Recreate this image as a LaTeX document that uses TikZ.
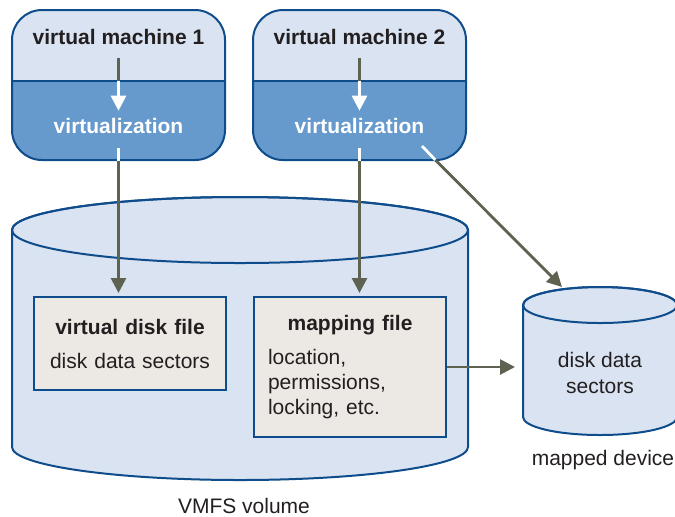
\documentclass[tikz,border=0pt]{standalone}
\usepackage{fontspec}
\setmainfont{Liberation Sans}
\usetikzlibrary{positioning,arrows.meta,calc}
\definecolor{vmLight}{HTML}{D9E3F1}
\definecolor{vmDark}{HTML}{6699CC}
\definecolor{vmEdge}{HTML}{0F4C8C}
\definecolor{fileFill}{HTML}{ECE9E4}
\definecolor{arrGray}{HTML}{5E6251}
\definecolor{txtDark}{HTML}{231F20}

\begin{document}
\begin{tikzpicture}[
  x=0.5pt, y=-0.5pt,
  every node/.style={font=\fontsize{10.5}{12.6}\selectfont, text=txtDark},
  vmbox/.style={draw=vmEdge, line width=1pt, fill=vmLight, rounded corners=15pt,
                minimum width=106.5pt, minimum height=75pt, inner sep=0pt,
                path picture={
                  \fill[vmDark, sharp corners] ($(path picture bounding box.west)+(0pt,2pt)$)
                        rectangle (path picture bounding box.south east);
                  \draw[vmEdge, line width=1pt] ($(path picture bounding box.west)+(0pt,2pt)$)
                        -- ($(path picture bounding box.east)+(0pt,2pt)$);}},
  vmtitle/.style={font=\fontsize{10.5}{12.6}\selectfont\bfseries},
  virt/.style={font=\fontsize{10.5}{12.6}\selectfont\bfseries, text=white},
  filebox/.style={draw=vmEdge, line width=1pt, fill=fileFill,
                  text width=82pt, inner xsep=7pt, inner ysep=0pt},
  disk/.style={draw=vmEdge, line width=1pt, fill=vmLight},
  arr/.style={-{Triangle[length=7.5pt, width=7.5pt]}, line width=1.4pt, arrGray},
  warr/.style={-{Triangle[length=7.5pt, width=7.5pt]}, line width=1.4pt, white},
  link/.style={line width=1.4pt, arrGray},
  wlink/.style={line width=1.4pt, white}
]
  \useasboundingbox (0,0) rectangle (675,516);

  % VMFS volume
  \path[disk] (12,230) -- (12,447)
        arc[start angle=180, end angle=360, x radius=114pt, y radius=16.5pt]
        -- (468,230)
        arc[start angle=0, end angle=180, x radius=114pt, y radius=16.5pt] -- cycle;
  \draw[vmEdge, line width=1pt] (240,230) ellipse[x radius=114pt, y radius=16.5pt];
  \node (vmfslabel) at (244,506) {VMFS volume};

  \node[filebox, align=center, minimum height=46.5pt] (vdisk) at (130,343.5)
        {\textbf{virtual disk file}\\[4.4pt]disk data sectors};
  \node[filebox, align=left, minimum height=70pt] (mapfile) at (350,367)
        {\makebox[\linewidth]{\textbf{mapping file}}\\[4.4pt]location,\\permissions,\\locking, etc.};

  % mapped device
  \path[disk] (523,305) -- (523,417)
        arc[start angle=180, end angle=360, x radius=38.5pt, y radius=9pt]
        -- (677,305)
        arc[start angle=0, end angle=180, x radius=38.5pt, y radius=9pt] -- cycle;
  \draw[vmEdge, line width=1pt] (600,305) ellipse[x radius=38.5pt, y radius=9pt];
  \node[align=center] (device) at (600,373) {disk data\\sectors};
  \node (devlabel) at (603,460) {mapped device};

  % virtual machines
  \node[vmbox] (vm1) at (118.5,85) {};
  \node[vmbox, right=13pt of vm1] (vm2) {};
  \node[vmtitle] (vm1title) at (118.5,37) {virtual machine 1};
  \node[vmtitle] (vm2title) at (359.5,37) {virtual machine 2};
  \node[virt] (virt1) at (118.5,125.5) {virtualization};
  \node[virt] (virt2) at (359.5,125.5) {virtualization};

  \coordinate (vm1div) at (118.5,81);
  \coordinate (vm2div) at (359.5,81);
  \coordinate (vm2out) at (422,146);
  \coordinate (vm2edge) at (435.4,160);
  \coordinate (devtop) at (562,287);
  \coordinate (devside) at (523,365);

  \draw[link, shorten <=3pt] (vm1title.south) -- (vm1div);
  \draw[warr] (vm1div) -- (virt1.north);
  \draw[wlink, shorten <=4pt] (virt1.south) -- (vm1.south);
  \draw[arr, shorten >=1.5pt] (vm1.south) -- (vm1.south |- vdisk.north);

  \draw[link, shorten <=3pt] (vm2title.south) -- (vm2div);
  \draw[warr] (vm2div) -- (virt2.north);
  \draw[wlink, shorten <=4pt] (virt2.south) -- (vm2.south);
  \draw[arr, shorten >=1.5pt] (vm2.south) -- (vm2.south |- mapfile.north);

  \draw[wlink] (vm2out) -- (vm2edge);
  \draw[arr] (vm2edge) -- (devtop);
  \draw[arr, shorten >=4pt] (mapfile.east) -- (mapfile.east -| devside);
\end{tikzpicture}
\end{document}
